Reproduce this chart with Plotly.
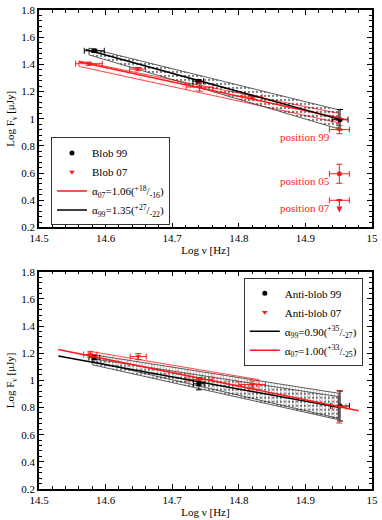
import plotly.graph_objects as go

# ---- top panel: blob ----
blob99_x = [14.583, 14.739, 14.952]
blob99_y = [1.500, 1.276, 0.993]
blob99_ex = [0.015, 0.008, 0.012]
blob99_ey = [0.012, 0.012, 0.075]

blob07_x = [14.575, 14.648, 14.741, 14.820, 14.951]
blob07_y = [1.405, 1.365, 1.233, 1.160, 0.920]
blob07_ex = [0.020, 0.012, 0.020, 0.015, 0.015]
blob07_ey = [0.012, 0.012, 0.030, 0.012, 0.030]

pos05_x, pos05_y, pos05_ex, pos05_ey = [14.951], [0.595], [0.015], [0.07]
pos07_x, pos07_y, pos07_ex = [14.951], [0.40], [0.015]
pos07_arrow_to = 0.31

fit07_x = [14.56, 14.963]
fit07_y = [1.42, 0.993]
fit99_x = [14.57, 14.95]
fit99_y = [1.51, 0.997]

band99_x = [14.575, 14.95]
band99_hi = [1.52, 1.065]
band99_lo = [1.47, 0.925]
band07_x = [14.56, 14.95]
band07_hi = [1.425, 1.04]
band07_lo = [1.385, 0.97]

# ---- bottom panel: anti-blob ----
anti99_x = [14.583, 14.740, 14.952]
anti99_y = [1.167, 0.975, 0.811]
anti99_ex = [0.008, 0.008, 0.014]
anti99_ey = [0.015, 0.045, 0.110]

anti07_x = [14.577, 14.649, 14.741, 14.820, 14.951]
anti07_y = [1.190, 1.175, 1.007, 0.970, 0.806]
anti07_ex = [0.010, 0.012, 0.020, 0.020, 0.010]
anti07_ey = [0.020, 0.022, 0.012, 0.025, 0.120]

afit99_x = [14.529, 14.95]
afit99_y = [1.180, 0.801]
afit07_x = [14.529, 14.98]
afit07_y = [1.228, 0.777]

aband99_x = [14.58, 14.95]
aband99_hi = [1.16, 0.88]
aband99_lo = [1.115, 0.71]
aband07v_x = [14.58, 14.95]
aband07v_hi = [1.19, 0.905]
aband07v_lo = [1.14, 0.72]
aband07_x = [14.575, 14.83]
aband07_hi = [1.215, 1.005]
aband07_lo = [1.180, 0.93]

RED = '#ff1a1a'
FONT = 'Liberation Serif'


def band(x, hi, lo, shape, fg, edge, xa, ya, size=4, solid=0.2):
    return go.Scatter(x=[x[0], x[1], x[1], x[0], x[0]], y=[hi[0], hi[1], lo[1], lo[0], hi[0]],
                      mode='lines', fill='toself', fillcolor='rgba(0,0,0,0)',
                      fillpattern=dict(shape=shape, fgcolor=fg, bgcolor='rgba(255,255,255,0)',
                                       size=size, solidity=solid),
                      line=dict(color=edge, width=0.8), showlegend=False, hoverinfo='skip',
                      xaxis=xa, yaxis=ya)


def pts(x, y, ex, ey, color, symbol, name, xa, ya, legend, show=True):
    return go.Scatter(x=x, y=y, mode='markers', name=name,
                      marker=dict(symbol=symbol, color=color, size=5),
                      error_x=dict(type='data', array=ex, color=color, thickness=1, width=3),
                      error_y=dict(type='data', array=ey, color=color, thickness=1, width=3),
                      xaxis=xa, yaxis=ya, legend=legend, showlegend=show)


def lin(x, y, color, name, xa, ya, legend):
    return go.Scatter(x=x, y=y, mode='lines', name=name, line=dict(color=color, width=1.5),
                      xaxis=xa, yaxis=ya, legend=legend)


fig = go.Figure()

# top panel
fig.add_trace(band(band07_x, band07_hi, band07_lo, 'x', RED, RED, 'x', 'y', 6, 0.15))
fig.add_trace(band(band99_x, band99_hi, band99_lo, '.', 'black', '#333333', 'x', 'y', 4, 0.25))
fig.add_trace(pts(blob99_x, blob99_y, blob99_ex, blob99_ey, 'black', 'circle', 'Blob 99', 'x', 'y', 'legend'))
fig.add_trace(pts(blob07_x, blob07_y, blob07_ex, blob07_ey, RED, 'triangle-down', 'Blob 07', 'x', 'y', 'legend'))
fig.add_trace(lin(fit07_x, fit07_y, RED, 'α<sub>07</sub>=1.06(<sup>+18</sup>/<sub>-16</sub>)', 'x', 'y', 'legend'))
fig.add_trace(lin(fit99_x, fit99_y, 'black', 'α<sub>99</sub>=1.35(<sup>+27</sup>/<sub>-22</sub>)', 'x', 'y', 'legend'))
fig.add_trace(pts(pos05_x, pos05_y, pos05_ex, pos05_ey, RED, 'circle', 'pos05', 'x', 'y', 'legend', False))
fig.add_trace(pts(pos07_x, pos07_y, pos07_ex, [0], RED, 'triangle-down', 'pos07', 'x', 'y', 'legend', False))

# bottom panel
fig.add_trace(band(aband07v_x, aband07v_hi, aband07v_lo, '|', '#888888', '#333333', 'x2', 'y2', 3, 0.25))
fig.add_trace(band(aband99_x, aband99_hi, aband99_lo, '.', 'black', '#333333', 'x2', 'y2', 4, 0.25))
fig.add_trace(band(aband07_x, aband07_hi, aband07_lo, 'x', RED, RED, 'x2', 'y2', 7, 0.15))
fig.add_trace(pts(anti99_x, anti99_y, anti99_ex, anti99_ey, 'black', 'circle', 'Anti-blob 99', 'x2', 'y2', 'legend2'))
fig.add_trace(pts(anti07_x, anti07_y, anti07_ex, anti07_ey, RED, 'triangle-down', 'Anti-blob 07', 'x2', 'y2', 'legend2'))
fig.add_trace(lin(afit99_x, afit99_y, 'black', 'α<sub>99</sub>=0.90(<sup>+35</sup>/<sub>-27</sub>)', 'x2', 'y2', 'legend2'))
fig.add_trace(lin(afit07_x, afit07_y, RED, 'α<sub>07</sub>=1.00(<sup>+33</sup>/<sub>-25</sub>)', 'x2', 'y2', 'legend2'))

# position labels
for txt, yv in [('position 99', 0.862), ('position 05', 0.544), ('position 07', 0.345)]:
    fig.add_annotation(x=14.94, y=yv, xref='x', yref='y', text=txt, showarrow=False,
                       xanchor='right', font=dict(color=RED, size=11, family=FONT))
fig.add_annotation(x=pos07_x[0], y=pos07_arrow_to, ax=pos07_x[0], ay=pos07_y[0],
                   xref='x', yref='y', axref='x', ayref='y', text='', showarrow=True,
                   arrowhead=2, arrowsize=1, arrowwidth=1.2, arrowcolor=RED)

axis_common = dict(showline=True, linecolor='black', linewidth=1.5, mirror='allticks',
                   ticks='inside', ticklen=5, tickwidth=1, tickcolor='black',
                   showgrid=False, zeroline=False,
                   tickfont=dict(size=11, family=FONT, color='black'))
xcommon = dict(axis_common, range=[14.5, 15], tickvals=[14.5, 14.6, 14.7, 14.8, 14.9, 15],
               ticktext=['14.5', '14.6', '14.7', '14.8', '14.9', '15'],
               minor=dict(dtick=0.02, ticks='inside', ticklen=3, tickcolor='black'),
               title=dict(text='Log ν [Hz]', font=dict(size=11, family=FONT), standoff=2))
ycommon = dict(axis_common, range=[0.2, 1.8], tickvals=[0.2, 0.4, 0.6, 0.8, 1.0, 1.2, 1.4, 1.6, 1.8],
               ticktext=['0.2', '0.4', '0.6', '0.8', '1', '1.2', '1.4', '1.6', '1.8'],
               minor=dict(dtick=0.04, ticks='inside', ticklen=3, tickcolor='black'),
               title=dict(text='Log F<sub>ν</sub> [μJy]', font=dict(size=11, family=FONT), standoff=4))

legend_common = dict(bgcolor='white', bordercolor='#333333', borderwidth=1,
                     font=dict(size=11, family=FONT, color='black'), itemwidth=30,
                     traceorder='normal', tracegroupgap=0)

fig.update_layout(
    width=382, height=520,
    margin=dict(l=39, r=8, t=4, b=31),
    paper_bgcolor='white', plot_bgcolor='white',
    font=dict(family=FONT, size=11, color='black'),
    xaxis=dict(xcommon, domain=[0, 1], anchor='y'),
    yaxis=dict(ycommon, domain=[0.546, 1], anchor='x'),
    xaxis2=dict(xcommon, domain=[0, 1], anchor='y2'),
    yaxis2=dict(ycommon, domain=[0, 0.4536], anchor='x2'),
    legend=dict(legend_common, x=0.036, y=0.734, xanchor='left', yanchor='top'),
    legend2=dict(legend_common, x=0.615, y=0.441, xanchor='left', yanchor='top'),
)

fig.write_html("out.html", config={'displayModeBar': False},
               post_script="document.body.style.margin='0';")
